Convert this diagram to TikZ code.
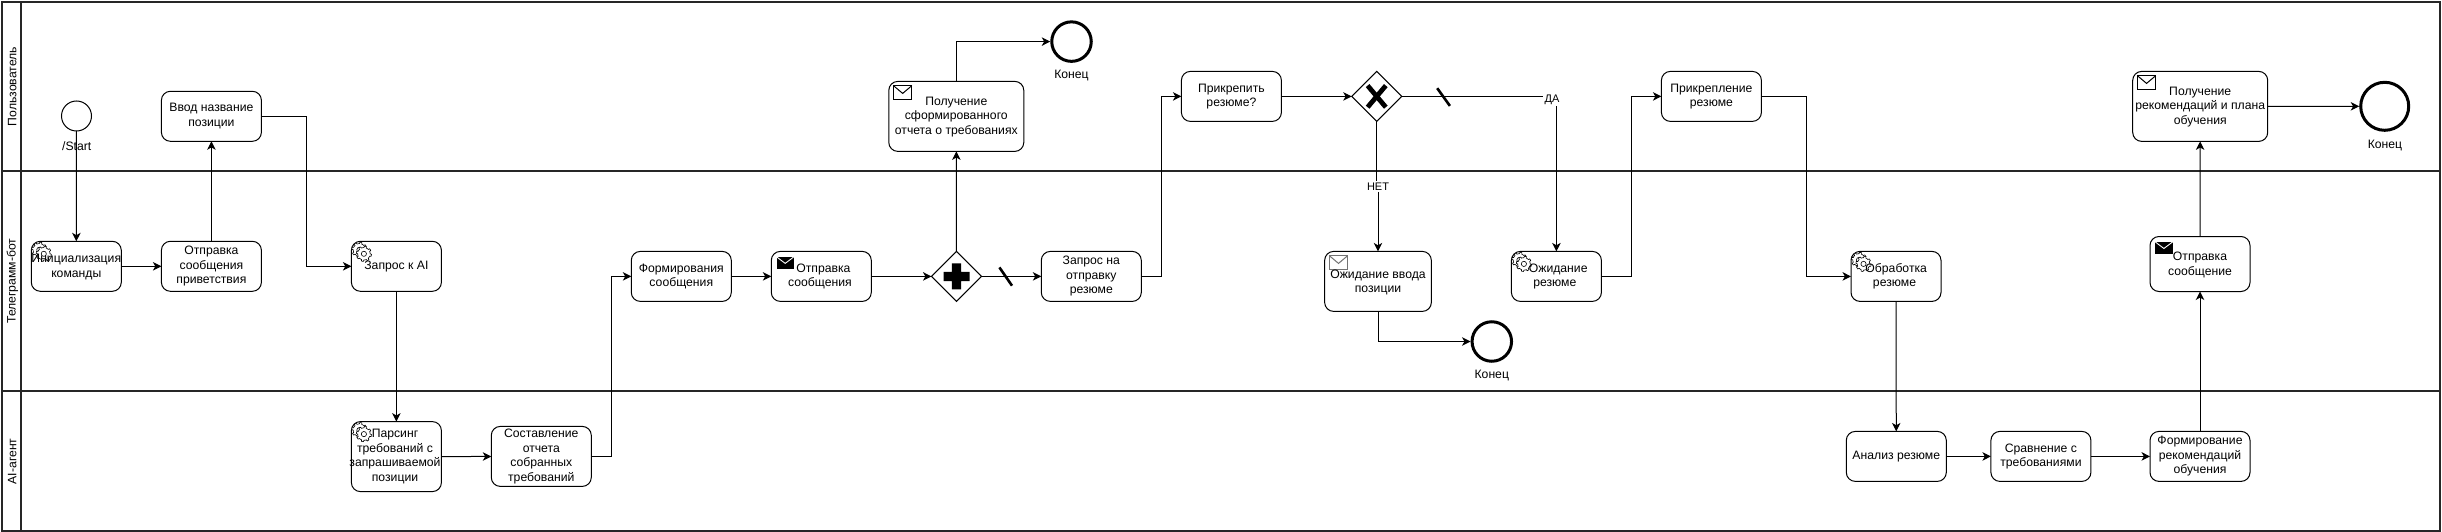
\documentclass[tikz,border=0pt]{standalone}
\usepackage{fontspec}
\setmainfont{Liberation Sans}
\usetikzlibrary{arrows.meta,shapes.geometric}
\tikzset{
  task/.style={draw=black,line width=1pt,fill=white,rounded corners=9pt,minimum height=50pt,minimum width=100pt,inner sep=0pt,outer sep=0pt,align=center,font=\fontsize{12.2}{14.6}\selectfont},
  gate/.style={draw=black,line width=1pt,fill=white,diamond,aspect=1,minimum size=50pt,inner sep=0pt,outer sep=0pt},
  startev/.style={draw=black,line width=1pt,fill=white,circle,minimum size=30pt,inner sep=0pt,outer sep=0pt},
  endev/.style={draw=black,line width=3pt,fill=white,circle,minimum size=39.5pt,inner sep=0pt,outer sep=1.5pt},
  lbl/.style={font=\fontsize{12.2}{14.6}\selectfont,inner sep=0pt,outer sep=0pt},
  edgelbl/.style={font=\fontsize{11}{13}\selectfont,fill=white,inner sep=1.5pt,outer sep=0pt},
  lane/.style={draw=black!85,line width=2pt},
  lanehead/.style={rotate=90,font=\fontsize{12.2}{14.6}\selectfont,inner sep=0pt},
  flow/.style={draw=black,line width=1pt,-{Stealth[length=8.5pt,width=8.5pt,inset=2.4pt]}},
  tick/.style={draw=black,line width=2.6pt},
  gearline/.style={draw=black,line width=0.6pt,fill=white}
}
\newcommand{\gearat}[2]{%
  \draw[gearline] plot[domain=0:360,samples=97,variable=\t]
    ({#1+(6.2+1.4*(sin(8*\t)>0))*cos(\t)},{#2+(6.2+1.4*(sin(8*\t)>0))*sin(\t)}) -- cycle;
  \draw[gearline] (#1,#2) circle[radius=2.6];}
\newcommand{\gearicon}[1]{%
  \begin{scope}[shift={(#1.north west)}]
    \gearat{8}{8.5}\gearat{12.5}{12.5}
  \end{scope}}
\newcommand{\envopen}[2][black]{%
  \begin{scope}[shift={(#2.north west)}]
    \draw[#1,line width=1pt] (4.7,4.3) rectangle (23,18);
    \draw[#1,line width=1pt] (4.7,4.3) -- (13.85,12) -- (23,4.3);
  \end{scope}}
\newcommand{\envfill}[1]{%
  \begin{scope}[shift={(#1.north west)}]
    \fill[black] (5.2,5.4) rectangle (22.6,17.4);
    \draw[white,line width=0.9pt] (5.2,5.4) -- (13.9,12) -- (22.6,5.4);
  \end{scope}}
\begin{document}
\begin{tikzpicture}[x=1pt,y=-1pt]
\useasboundingbox (0,0) rectangle (2442,532);
\fill[white] (0,0) rectangle (2442,532);
% swimlanes
\draw[lane] (2,2) rectangle (2440,531);
\draw[lane] (21.4,2) -- (21.4,531);
\draw[lane] (2,171.4) -- (2440,171.4);
\draw[lane] (2,391.2) -- (2440,391.2);
\node[lanehead] (l1) at (12.3,86.5) {Пользователь};
\node[lanehead] (l2) at (12.3,281) {Телеграмм-бот};
\node[lanehead] (l3) at (12.3,461.5) {AI-агент};
% routing coordinates
\coordinate (b1) at (306.5,200);
\coordinate (b2) at (611.6,360);
\coordinate (b3) at (1161.5,190);
\coordinate (b4) at (1631.4,190);
\coordinate (b5) at (1806.6,190);
% events
\node[startev] (start) at (76.5,116) {};
\node[lbl] (startl) at (76.7,146) {/Start};
\node[endev] (end1) at (1071.5,41.6) {};
\node[lbl] (end1l) at (1071.5,75.7) {Конец};
\node[endev] (end2) at (1491.8,341.5) {};
\node[lbl] (end2l) at (1491.8,375.6) {Конец};
\node[endev,minimum size=48pt] (end3) at (2384.7,106.3) {};
\node[lbl] (end3l) at (2385,146) {Конец};
% tasks
\node[task] (vvod) at (211.4,116.3) {Ввод название\\позиции};
\node[task,minimum width=90pt] (init) at (76.3,266.3) {};
\node[task] (hello) at (211.4,266.3) {Отправка\\сообщения\\приветствия};
\node[task,minimum width=90pt] (zapros) at (396.4,266.3) {Запрос к AI};
\node[task,minimum width=90pt,minimum height=70pt] (pars) at (396.4,456.6) {};
\node[task,minimum height=60pt] (sost) at (541.3,456.4) {Составление\\отчета\\собранных\\требований};
\node[task] (form) at (681.3,276.4) {Формирования\\сообщения};
\node[task] (send) at (821.3,276.4) {};
\node[gate] (par) at (956.5,276.4) {};
\node[task] (zres) at (1091.3,276.4) {Запрос на\\отправку\\резюме};
\node[task,minimum width=135pt,minimum height=70pt] (rep) at (956.3,116.4) {};
\node[task] (attq) at (1231.4,96.4) {Прикрепить\\резюме?};
\node[gate] (xor) at (1376.7,96.4) {};
\node[task,minimum width=106.7pt,minimum height=60pt] (waitp) at (1378,281.4) {};
\node[task,minimum width=90pt] (waitr) at (1556.4,276.4) {};
\node[task] (att) at (1711.4,96.4) {Прикрепление\\резюме};
\node[task,minimum width=90pt] (proc) at (1896,276.4) {};
\node[task] (anal) at (1896.3,456.4) {Анализ резюме};
\node[task] (cmp) at (2040.9,456.4) {Сравнение с\\требованиями};
\node[task] (rec) at (2200,456.4) {Формирование\\рекомендаций\\обучения};
\node[task,minimum height=55pt] (sendr) at (2200,264) {};
\node[task,minimum width=135pt,minimum height=70pt] (getr) at (2200.2,106.4) {};
% icons
\gearicon{init}\gearicon{zapros}\gearicon{pars}\gearicon{waitr}\gearicon{proc}
\envopen{rep}\envopen{getr}\envopen[black!55]{waitp}
\envfill{send}\envfill{sendr}
% texts that lie over the icons
\node[lbl,align=center] (initt) at (76.3,267.3) {Инициализация\\команды};
\node[lbl,align=center] (parst) at (395,456.6) {Парсинг\\требований с\\запрашиваемой\\позиции};
\node[lbl,align=center] (sendt) at (820,276.4) {\ \ Отправка\\сообщения};
\node[lbl,align=center] (rept) at (956.3,117) {Получение\\сформированного\\отчета о требованиях};
\node[lbl,align=center] (waitpt) at (1378,282.4) {Ожидание ввода\\позиции};
\node[lbl,align=center] (waitrt) at (1554.8,276.4) {\ \ Ожидание\\резюме};
\node[lbl,align=center] (proct) at (1894.5,276.4) {\ Обработка\\резюме};
\node[lbl,align=center] (sendrt) at (2200,264.8) {Отправка\\сообщение};
\node[lbl,align=center] (getrt) at (2200.2,107) {Получение\\рекомендаций и плана\\обучения};
% gateway markers
\fill[black] (956.5,276.4) ++(-13,-4.6) rectangle ++(26,9.2) (956.5,276.4) ++(-4.6,-13) rectangle ++(9.2,26);
\draw[black,line width=4.8pt] (1367.6,85.6) -- (1385.8,107.2) (1385.8,85.6) -- (1367.6,107.2);
% connectors
\draw[flow] (start) -- (init);
\draw[flow] (init) -- (hello);
\draw[flow] (hello) -- (vvod);
\draw[flow] (vvod.east) -| (b1) |- (zapros.west);
\draw[flow] (zapros) -- (pars);
\draw[flow] (pars) -- (sost);
\draw[flow] (sost.east) -| (b2) |- (form.west);
\draw[flow] (form) -- (send);
\draw[flow] (send) -- (par);
\draw[flow] (par) -- (zres);
\draw[flow] (par) -- (rep);
\draw[flow] (rep.north) |- (end1.west);
\draw[flow] (zres.east) -| (b3) |- (attq.west);
\draw[flow] (attq) -- (xor);
\draw[flow] (xor.east) -| (waitr.north);
\node[edgelbl] (da) at (1552,99.4) {ДА};
\node[edgelbl] (net) at (1378,186.6) {НЕТ};
\draw[draw=black,line width=1pt] (xor.south) -- (xor.south |- net.north);
\draw[flow] (net.south) -- (waitp.north);
\draw[flow] (waitp.south) |- (end2.west);
\draw[flow] (waitr.east) -| (b4) |- (att.west);
\draw[flow] (att.east) -| (b5) |- (proc.west);
\draw[flow] (proc) -- (anal);
\draw[flow] (anal) -- (cmp);
\draw[flow] (cmp) -- (rec);
\draw[flow] (rec) -- (sendr);
\draw[flow] (sendr) -- (getr);
\draw[flow] (getr) -- (end3);
% sequence ticks
\draw[tick] (999.4,267.4) -- (1012,285.7);
\draw[tick] (1437.2,88.2) -- (1449.9,105.9);
\end{tikzpicture}
\end{document}
